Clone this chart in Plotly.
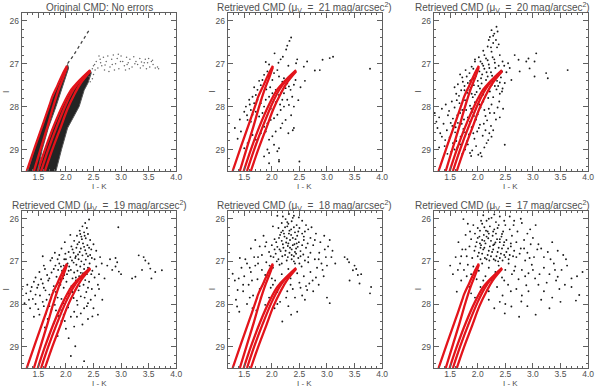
import plotly.graph_objects as go

# axis limits (I - K colour, I magnitude reversed)
x_range = [1.2, 4.0]
y_range = [29.5, 25.82]

# isochrone tracks drawn in red in every panel
iso_a_x = [1.29, 1.45, 1.60, 1.72, 1.75, 1.85, 1.95, 2.02]
iso_a_y = [29.5, 28.9, 28.35, 27.9, 27.78, 27.5, 27.22, 27.05]
iso_b_x = [1.42, 1.55, 1.67, 1.77, 1.87, 1.96, 2.02]
iso_b_y = [29.5, 28.95, 28.45, 28.0, 27.6, 27.3, 27.08]
iso_c_x = [1.49, 1.62, 1.78, 1.95, 2.10, 2.20, 2.30, 2.44]
iso_c_y = [29.5, 29.0, 28.45, 27.95, 27.6, 27.45, 27.32, 27.15]
iso_d_x = [1.55, 1.68, 1.84, 2.00, 2.13, 2.24, 2.44]
iso_d_y = [29.5, 29.0, 28.45, 27.95, 27.62, 27.42, 27.17]
iso_e_x = [1.62, 1.74, 1.90, 2.03, 2.16, 2.27, 2.44]
iso_e_y = [29.5, 29.05, 28.5, 28.05, 27.7, 27.45, 27.18]

# panel 1: error-free synthetic CMD (dense sequences as bands)
band_left_x = [1.31, 1.45, 1.60, 1.72, 1.85, 1.95, 2.03, 2.05, 1.95, 1.82, 1.68, 1.57, 1.49]
band_left_y = [29.5, 28.9, 28.35, 27.9, 27.5, 27.22, 27.02, 27.1, 27.5, 28.0, 28.5, 29.0, 29.5]
band_right_x = [1.50, 1.62, 1.78, 1.95, 2.10, 2.20, 2.30, 2.44, 2.46, 2.40, 2.33, 2.24, 2.13, 2.03, 1.92, 1.82]
band_right_y = [29.5, 29.0, 28.45, 27.95, 27.6, 27.45, 27.32, 27.15, 27.22, 27.45, 27.62, 28.0, 28.25, 28.5, 29.0, 29.5]
upper_rgb_x = [2.03, 2.08, 2.13, 2.18, 2.23, 2.28, 2.33, 2.38, 2.43]
upper_rgb_y = [27.0, 26.92, 26.82, 26.72, 26.62, 26.52, 26.42, 26.32, 26.2]
p1_agb = [
    (2.48, 27.12), (2.52, 27.02), (2.55, 26.95), (2.58, 27.10), (2.62, 26.90), (2.65, 27.05), (2.68, 26.85),
    (2.70, 27.15), (2.73, 26.95), (2.76, 26.82), (2.80, 27.08), (2.83, 26.90), (2.86, 26.80), (2.90, 27.00),
    (2.93, 26.88), (2.96, 27.12), (3.00, 26.82), (3.03, 26.95), (3.06, 27.05), (3.10, 26.85), (3.13, 26.98),
    (3.16, 26.90), (3.20, 27.08), (3.23, 26.84), (3.27, 26.95), (3.30, 27.02), (3.34, 26.88), (3.37, 26.96),
    (3.40, 27.05), (3.44, 26.90), (3.48, 26.98), (3.52, 27.08), (3.55, 26.95), (3.58, 27.02), (3.62, 27.10),
    (3.66, 27.08), (3.68, 27.12), (2.60, 26.82), (2.78, 27.18), (2.95, 26.78), (3.15, 27.12), (3.35, 27.10),
    (3.50, 26.88), (2.45, 27.20), (2.50, 27.25), (2.42, 27.30), (2.88, 27.15), (3.08, 27.15),
    (2.53, 27.15), (2.63, 26.98), (2.71, 27.03), (2.84, 27.02), (2.99, 26.95), (3.11, 27.02), (3.25, 27.00),
    (3.42, 26.98), (3.57, 26.92), (3.46, 27.12), (2.48, 27.35), (2.44, 27.42), (2.50, 27.05),
]

# retrieved CMDs, mu_V = 21
p2 = [
    (2.35, 26.39), (2.32, 26.47), (2.26, 26.67), (2.05, 26.76), (2.20, 26.84), (2.16, 26.90), (1.89, 26.96),
    (2.46, 26.90), (2.44, 26.99), (2.64, 26.95), (2.58, 27.07), (2.78, 27.16), (2.87, 27.15), (2.92, 26.91),
    (3.05, 26.87), (3.11, 26.84), (3.78, 27.12), (2.28, 26.58), (2.12, 26.98), (2.30, 27.05), (1.95, 27.02),
    (1.33, 28.50), (1.44, 28.58), (1.53, 28.00), (1.62, 28.08), (1.59, 27.84), (1.65, 27.77), (1.71, 27.73),
    (1.74, 27.61), (1.80, 27.50), (1.83, 27.38), (1.86, 27.26), (1.92, 27.18), (1.95, 27.30), (2.01, 27.38),
    (2.04, 27.22), (2.10, 27.15), (2.13, 27.30), (2.19, 27.42), (2.22, 27.34), (2.28, 27.46), (2.31, 27.53),
    (2.34, 27.61), (2.40, 27.49), (2.37, 27.77), (2.28, 27.84), (2.22, 28.00), (2.16, 28.08), (2.10, 28.19),
    (2.04, 28.27), (1.98, 28.31), (1.92, 28.39), (1.86, 28.47), (1.83, 28.15), (1.77, 28.23), (1.71, 28.12),
    (1.65, 28.19), (1.62, 28.35), (1.56, 28.31), (1.50, 28.12), (1.68, 27.92), (1.74, 27.84), (1.80, 27.92),
    (1.86, 28.00), (1.89, 27.84), (1.95, 27.77), (2.01, 27.69), (2.07, 27.61), (2.13, 27.73), (2.19, 27.84),
    (2.22, 27.69), (2.31, 27.96), (2.40, 28.00), (2.01, 28.69), (1.95, 28.77), (2.04, 28.89), (1.92, 29.00),
    (2.10, 29.04), (1.86, 29.16), (2.13, 29.24), (1.95, 29.08), (1.56, 28.85), (1.50, 28.97), (1.71, 28.77),
    (1.65, 28.66), (1.80, 28.62), (1.89, 28.58), (2.07, 28.58), (2.16, 28.50), (2.19, 28.39), (2.25, 28.31),
    (2.43, 27.38), (1.98, 28.05), (2.25, 27.57), (1.77, 27.40), (1.68, 27.55), (1.60, 27.95), (1.55, 28.20),
    (1.42, 28.30), (1.38, 28.75), (2.07, 27.90), (2.15, 27.95), (1.90, 27.60), (1.97, 27.55), (2.35, 28.20),
    (2.38, 28.55), (2.30, 28.62), (2.50, 29.28), (2.13, 28.97), (2.13, 29.28), (1.95, 29.32), (2.40, 28.50),
    (2.48, 27.85), (2.52, 27.55), (2.60, 27.40),
]

# mu_V = 20
p3 = [
    (1.78, 27.15), (1.85, 27.22), (1.92, 27.12), (1.97, 27.28), (2.03, 27.18), (2.08, 27.25), (2.12, 27.12),
    (2.18, 27.30), (2.24, 27.20), (2.30, 27.35), (2.36, 27.25), (2.42, 27.32), (1.88, 27.38), (2.00, 27.40),
    (2.15, 27.38), (2.27, 27.42), (2.40, 27.44), (1.72, 27.32), (1.82, 27.45), (2.21, 27.10),
    (1.58, 27.55), (1.64, 27.48), (1.70, 27.62), (1.76, 27.52), (1.81, 27.68), (1.87, 27.56), (1.93, 27.50),
    (1.98, 27.66), (2.04, 27.58), (2.10, 27.72), (2.16, 27.55), (2.22, 27.65), (2.28, 27.78), (2.34, 27.60),
    (2.40, 27.70), (2.45, 27.58), (1.66, 27.75), (1.91, 27.78), (2.07, 27.46), (2.19, 27.80), (1.73, 27.42),
    (1.95, 27.72), (2.31, 27.52), (1.61, 27.70), (2.02, 27.80),
    (1.42, 27.95), (1.48, 28.10), (1.53, 27.88), (1.58, 28.02), (1.63, 28.20), (1.67, 27.92), (1.72, 28.08),
    (1.77, 27.85), (1.82, 28.25), (1.86, 27.98), (1.90, 28.12), (1.95, 27.90), (2.00, 28.18), (2.05, 28.02),
    (2.10, 27.88), (2.14, 28.22), (2.20, 28.05), (2.25, 27.95), (2.30, 28.15), (2.36, 28.02), (1.22, 28.15),
    (1.55, 28.28), (1.75, 28.30), (1.97, 28.30), (2.17, 28.32), (2.40, 28.25), (1.35, 28.05), (1.68, 28.15),
    (1.88, 28.05),
    (1.27, 28.50), (1.32, 28.62), (1.38, 28.40), (1.44, 28.55), (1.49, 28.72), (1.54, 28.45), (1.59, 28.60),
    (1.64, 28.38), (1.69, 28.70), (1.74, 28.52), (1.79, 28.42), (1.84, 28.65), (1.89, 28.48), (1.94, 28.75),
    (1.99, 28.58), (2.04, 28.42), (2.09, 28.68), (2.14, 28.55), (2.19, 28.78), (2.24, 28.45), (2.21, 28.62),
    (1.41, 28.78), (1.61, 28.80), (1.81, 28.80),
    (1.40, 28.92), (1.52, 29.05), (1.63, 28.95), (1.72, 29.10), (1.82, 28.88), (1.90, 29.02), (1.97, 28.92),
    (2.05, 29.08), (2.01, 29.12), (2.07, 29.16), (2.49, 28.89), (1.88, 29.15), (2.12, 28.95), (1.55, 28.85),
    (2.34, 26.14), (2.25, 26.22), (2.30, 26.30), (2.22, 26.38), (2.33, 26.45), (2.28, 26.52), (2.18, 26.60),
    (2.35, 26.62), (2.10, 26.70), (2.25, 26.72), (2.40, 26.80), (2.02, 26.85), (2.15, 26.88), (2.30, 26.90),
    (1.95, 26.95), (2.08, 27.00), (2.20, 27.02), (2.38, 27.05), (1.89, 27.07), (2.45, 26.95), (2.27, 26.85),
    (2.12, 26.80), (2.38, 26.55), (2.20, 26.45),
    (2.55, 26.99), (2.67, 26.80), (2.74, 26.91), (2.88, 26.95), (2.92, 26.88), (3.06, 26.76), (3.03, 26.95),
    (2.76, 27.18), (2.94, 27.11), (3.24, 27.22), (3.27, 27.34), (3.03, 27.30), (3.63, 27.15), (2.49, 27.45),
    (2.61, 27.38), (2.52, 27.20), (2.58, 27.10),
    (1.80, 27.30), (1.86, 27.40), (1.93, 27.35), (2.06, 27.34), (2.16, 27.20), (2.26, 27.28), (2.35, 27.40),
    (1.76, 27.62), (1.85, 27.62), (1.89, 27.70), (2.01, 27.52), (2.13, 27.62), (2.25, 27.50), (2.37, 27.52),
    (1.62, 27.85), (1.70, 27.98), (1.79, 28.08), (1.93, 28.22), (2.03, 27.95), (2.12, 28.08), (2.22, 28.15),
    (2.33, 28.30), (1.46, 28.20), (1.51, 28.38), (1.60, 28.48), (1.71, 28.40), (1.77, 28.60), (1.86, 28.35),
    (1.92, 28.62), (2.02, 28.50), (2.11, 28.40), (2.28, 28.55), (1.35, 28.70), (1.46, 28.85), (1.58, 29.00),
    (1.68, 28.88), (1.77, 29.00), (1.86, 29.08), (1.30, 28.95), (1.45, 29.10), (2.16, 28.85), (2.25, 28.70),
    (1.98, 27.20), (2.10, 27.05), (2.32, 27.10), (2.44, 27.18), (1.68, 27.25), (1.95, 26.90), (2.05, 26.95),
    (2.18, 26.92), (2.31, 26.98), (2.24, 26.62), (2.28, 26.35), (2.36, 26.25), (2.48, 27.05), (2.44, 27.65),
    (2.39, 27.88), (2.46, 28.05), (1.25, 28.35), (1.30, 28.25),
]

# mu_V = 19
p4 = [
    (2.42, 26.02), (2.35, 26.10), (2.30, 26.18), (2.38, 26.22), (2.25, 26.28), (2.33, 26.32), (2.40, 26.36),
    (2.20, 26.40), (2.28, 26.42), (2.36, 26.46), (2.44, 26.50), (2.15, 26.52), (2.24, 26.55), (2.31, 26.58),
    (2.39, 26.62), (2.10, 26.65), (2.19, 26.68), (2.27, 26.70), (2.35, 26.74), (2.46, 26.72), (2.05, 26.78),
    (2.14, 26.80), (2.22, 26.84), (2.30, 26.86), (2.40, 26.88), (1.98, 26.55), (2.50, 26.60), (2.08, 26.38),
    (2.95, 26.20), (1.88, 26.85),
    (1.52, 27.25), (1.60, 27.10), (1.66, 27.32), (1.72, 26.98), (1.78, 27.18), (1.83, 27.36), (1.88, 27.05),
    (1.93, 27.22), (1.97, 26.95), (2.02, 27.30), (2.06, 27.12), (2.11, 26.98), (2.15, 27.26), (2.19, 27.08),
    (2.24, 27.35), (2.28, 27.00), (2.33, 27.18), (2.38, 27.30), (2.43, 27.05), (2.48, 27.22), (2.55, 27.12),
    (2.60, 27.30), (1.75, 26.92), (1.95, 27.40), (2.12, 27.40), (2.30, 27.38), (1.58, 26.88), (1.85, 26.95),
    (2.52, 26.95), (2.65, 27.05), (1.45, 27.38), (2.08, 26.90),
    (1.30, 27.55), (1.36, 27.70), (1.42, 27.48), (1.48, 27.62), (1.53, 27.80), (1.58, 27.52), (1.63, 27.68),
    (1.68, 27.45), (1.73, 27.85), (1.78, 27.58), (1.82, 27.72), (1.87, 27.50), (1.92, 27.88), (1.96, 27.62),
    (2.01, 27.48), (2.05, 27.75), (2.10, 27.58), (2.14, 27.86), (2.18, 27.45), (2.23, 27.68), (2.27, 27.82),
    (2.32, 27.55), (2.37, 27.72), (2.42, 27.48), (2.47, 27.65), (2.53, 27.80), (2.58, 27.55), (1.28, 27.75),
    (1.40, 27.88), (1.65, 27.90), (1.90, 27.42), (2.20, 27.92), (2.45, 27.90), (2.66, 27.90), (1.55, 27.42),
    (1.25, 27.98), (1.35, 28.10), (1.45, 28.00), (1.52, 28.25), (1.60, 28.05), (1.67, 28.35), (1.74, 28.12),
    (1.80, 28.02), (1.86, 28.28), (1.92, 28.15), (1.98, 28.40), (2.04, 28.08), (2.09, 28.30), (2.15, 28.18),
    (2.21, 28.02), (2.27, 28.22), (2.33, 28.10), (2.40, 28.35), (2.48, 28.29), (2.58, 28.25), (2.15, 28.53),
    (1.78, 28.45), (1.62, 28.55), (2.00, 28.58), (2.30, 28.48), (1.42, 28.30), (1.95, 27.98),
    (2.17, 28.99), (2.09, 29.22), (2.33, 29.34), (1.85, 28.75), (2.05, 28.80),
    (2.90, 26.92), (2.93, 27.02), (2.90, 27.12), (2.84, 27.20), (2.96, 27.24), (3.32, 26.86), (3.41, 26.90),
    (3.44, 26.98), (3.38, 27.20), (3.53, 27.17), (3.62, 27.25), (3.74, 27.21), (3.26, 27.36), (3.20, 27.40),
    (3.50, 27.05), (3.00, 27.30), (2.75, 27.10), (2.80, 26.95), (3.55, 27.40),
    (1.99, 26.82), (2.17, 26.92), (2.26, 27.12), (2.36, 26.96), (2.03, 27.05), (2.21, 27.22), (2.40, 27.15),
    (1.91, 27.12), (2.09, 27.20), (2.31, 27.28), (2.44, 26.85), (1.81, 27.10),
    (2.26, 26.36), (2.34, 26.40), (2.29, 26.48), (2.21, 26.60), (2.33, 26.66), (2.42, 26.68), (2.25, 26.78),
    (2.12, 26.72), (2.37, 26.82), (2.18, 26.88), (2.47, 26.92), (2.00, 26.95), (2.23, 26.95), (2.33, 27.07),
    (2.14, 27.03), (1.96, 27.10), (1.86, 27.20), (2.05, 27.22), (2.27, 27.27), (2.46, 27.30), (1.74, 27.26),
    (1.62, 27.18), (1.70, 27.40), (1.97, 27.32), (2.18, 27.38), (2.35, 27.44), (2.52, 27.38), (1.50, 27.55),
    (1.60, 27.62), (1.77, 27.68), (1.90, 27.55), (2.07, 27.65), (2.25, 27.58), (2.40, 27.62), (1.45, 27.78),
    (1.58, 27.95), (1.70, 27.78), (1.85, 27.85), (2.02, 27.88), (2.12, 27.72), (2.34, 27.85), (1.38, 27.60),
    (1.50, 28.12), (1.64, 28.22), (1.82, 28.15), (1.96, 28.25), (2.20, 28.30), (2.38, 28.05), (1.20, 27.65),
    (1.33, 27.90), (2.60, 27.65), (2.70, 27.40), (2.62, 26.90), (2.55, 26.75), (1.92, 26.70), (1.80, 26.80),
    (2.40, 27.98), (2.50, 28.10), (1.70, 28.05), (1.92, 28.40),
]

# mu_V = 18
p5 = [
    (2.31, 25.89), (2.40, 25.93), (2.49, 25.97), (2.25, 26.01), (2.10, 25.93), (2.55, 26.05), (2.18, 26.10),
    (2.36, 26.06), (2.62, 26.15), (2.02, 26.18),
    (2.12, 26.22), (2.20, 26.28), (2.28, 26.18), (2.35, 26.25), (2.42, 26.32), (2.50, 26.22), (2.15, 26.38),
    (2.23, 26.42), (2.31, 26.35), (2.38, 26.45), (2.46, 26.40), (2.55, 26.35), (2.05, 26.48), (2.18, 26.52),
    (2.26, 26.56), (2.33, 26.50), (2.41, 26.60), (2.49, 26.55), (2.58, 26.50), (2.00, 26.62), (2.10, 26.66),
    (2.21, 26.68), (2.29, 26.64), (2.36, 26.72), (2.44, 26.70), (2.52, 26.76), (2.62, 26.68), (1.95, 26.78),
    (2.07, 26.82), (2.16, 26.76), (2.24, 26.85), (2.32, 26.80), (2.40, 26.88), (2.48, 26.92), (2.57, 26.84),
    (2.66, 26.90), (2.12, 26.95), (2.27, 26.98), (2.36, 26.95), (2.03, 26.90), (1.90, 26.55), (1.85, 26.40),
    (2.70, 26.45), (2.60, 26.30), (2.75, 26.62), (1.78, 26.65), (1.82, 26.85), (2.45, 26.15), (2.28, 26.08),
    (1.70, 26.50), (1.62, 26.70),
    (1.29, 27.29), (1.33, 27.45), (1.38, 27.67), (1.37, 28.06), (1.41, 28.18), (1.45, 27.15), (1.50, 27.35),
    (1.55, 27.05), (1.58, 27.55), (1.62, 27.25), (1.66, 27.80), (1.70, 27.10), (1.74, 27.42), (1.78, 27.65),
    (1.82, 27.20), (1.86, 27.48), (1.90, 27.02), (1.94, 27.35), (1.98, 27.62), (2.02, 27.15), (2.06, 27.45),
    (2.10, 27.72), (2.14, 27.08), (2.18, 27.30), (2.22, 27.55), (2.26, 27.85), (2.30, 27.18), (2.34, 27.40),
    (2.38, 27.65), (2.42, 27.05), (2.46, 27.28), (2.50, 27.50), (2.54, 27.12), (2.58, 27.35), (2.62, 27.58),
    (2.66, 27.02), (2.70, 27.25), (2.74, 27.45), (2.78, 26.95), (2.82, 27.15), (2.86, 26.80), (2.90, 27.05),
    (2.94, 27.35), (2.98, 26.90), (3.02, 26.65), (2.64, 27.67), (2.46, 28.18), (2.19, 28.41), (2.05, 28.10),
    (1.88, 28.02), (1.72, 28.15), (1.55, 28.00), (2.30, 28.05), (2.15, 27.95), (1.95, 27.85), (1.60, 27.85),
    (1.48, 27.70), (2.55, 27.80), (2.75, 27.70), (3.05, 27.98), (3.00, 27.85), (2.85, 27.55), (1.52, 26.95),
    (1.42, 26.92), (1.68, 26.90), (2.88, 26.55), (2.95, 26.40), (3.05, 26.50), (3.10, 26.75), (3.15, 27.05),
    (2.72, 26.20), (2.80, 26.35),
    (3.32, 26.90), (3.37, 26.95), (3.40, 27.02), (3.47, 27.21), (3.53, 27.18), (3.56, 27.32), (3.59, 27.52),
    (3.41, 27.45), (3.80, 27.60), (3.78, 27.75), (3.50, 27.10), (3.62, 27.30),
    (2.24, 26.20), (2.32, 26.28), (2.40, 26.20), (2.17, 26.32), (2.27, 26.46), (2.35, 26.38), (2.43, 26.48),
    (2.20, 26.60), (2.30, 26.58), (2.38, 26.62), (2.47, 26.66), (2.14, 26.72), (2.25, 26.75), (2.33, 26.68),
    (2.42, 26.78), (2.55, 26.62), (2.19, 26.88), (2.29, 26.90), (2.44, 26.82), (2.52, 26.88), (2.08, 26.55),
    (2.13, 26.45), (2.22, 26.35), (2.48, 26.30), (2.58, 26.42), (2.65, 26.58), (2.05, 26.72), (1.98, 26.88),
    (2.60, 26.98), (2.70, 26.80), (2.30, 26.12), (2.38, 25.98), (2.20, 25.95), (2.45, 26.58), (2.36, 26.85),
    (2.09, 27.00), (2.18, 27.05), (2.40, 27.00), (2.50, 27.05), (1.96, 27.10), (1.75, 27.05), (1.60, 27.15),
    (1.40, 27.40), (1.35, 27.90), (1.48, 27.55), (1.64, 27.45), (1.88, 27.32), (2.00, 27.40), (2.16, 27.50),
    (2.34, 27.55), (2.52, 27.62), (2.68, 27.52), (2.80, 27.38), (2.92, 27.20), (3.00, 27.10), (2.96, 26.72),
    (2.85, 26.95), (3.08, 26.90), (2.78, 26.50), (2.66, 26.25), (1.75, 26.90), (1.88, 26.65), (2.02, 27.55),
    (2.28, 27.70), (2.42, 27.85), (2.60, 27.90), (1.80, 27.85), (2.10, 28.00), (1.65, 28.10), (2.35, 28.25),
]

# mu_V = 17
p6 = [
    (1.92, 26.15), (2.00, 26.22), (2.08, 26.12), (2.15, 26.28), (2.22, 26.18), (2.30, 26.25), (2.38, 26.15),
    (2.46, 26.30), (1.95, 26.35), (2.03, 26.42), (2.11, 26.38), (2.19, 26.46), (2.27, 26.40), (2.35, 26.48),
    (2.43, 26.42), (2.52, 26.50), (1.98, 26.55), (2.06, 26.62), (2.14, 26.58), (2.22, 26.65), (2.30, 26.60),
    (2.38, 26.68), (2.47, 26.62), (2.55, 26.70), (1.94, 26.75), (2.02, 26.80), (2.10, 26.72), (2.18, 26.85),
    (2.26, 26.78), (2.34, 26.88), (2.42, 26.82), (2.50, 26.90), (2.58, 26.85), (2.05, 26.95), (2.13, 26.92),
    (2.21, 26.98), (2.29, 26.95), (2.37, 27.00), (2.45, 26.98), (1.88, 26.48), (1.85, 26.65), (2.62, 26.40),
    (2.60, 26.58), (2.66, 26.75), (2.16, 26.05), (2.33, 26.08), (2.25, 25.98), (2.40, 25.95), (2.10, 25.92),
    (2.48, 26.05), (2.12, 26.52), (2.28, 26.72), (2.40, 26.55), (2.18, 26.30), (2.05, 26.68), (2.33, 26.35),
    (1.74, 26.01), (1.60, 26.90), (1.72, 26.72), (1.65, 26.55), (1.78, 26.38), (1.80, 26.88), (1.68, 27.05),
    (1.75, 27.20), (1.82, 27.08), (1.88, 27.30), (1.92, 27.12), (1.98, 27.42), (2.02, 27.22), (2.08, 27.05),
    (2.14, 27.35), (2.20, 27.15), (2.26, 27.45), (2.32, 27.25), (2.38, 27.10), (2.44, 27.38), (2.50, 27.20),
    (2.56, 27.05), (2.62, 27.30), (2.68, 27.12), (2.74, 27.42), (2.80, 27.20), (2.86, 26.98), (2.92, 27.28),
    (2.98, 27.08), (3.04, 27.40), (2.70, 26.90), (2.78, 26.70), (2.84, 26.50), (2.90, 26.80), (2.96, 26.60),
    (3.02, 26.90), (3.08, 26.72), (2.72, 26.30), (2.65, 26.15), (2.80, 26.10), (2.58, 25.95), (2.90, 26.35),
    (1.62, 27.71), (1.70, 27.45), (1.85, 27.60), (2.35, 27.60), (2.55, 27.55), (2.88, 27.56), (2.70, 27.65),
    (2.61, 28.06), (2.49, 28.22), (2.79, 27.94), (2.92, 27.70), (3.15, 27.90), (2.45, 27.80), (2.20, 27.70),
    (1.95, 27.85), (2.30, 28.10), (3.10, 27.55), (2.15, 27.55), (1.55, 27.30), (1.50, 27.10),
    (3.15, 26.70), (3.27, 26.78), (3.32, 26.95), (3.38, 27.05), (3.45, 27.36), (3.48, 27.65), (3.40, 27.20),
    (3.55, 26.85), (3.62, 27.10), (3.35, 26.55), (3.84, 27.79), (3.78, 27.92), (3.70, 27.40), (3.20, 27.15),
    (3.25, 27.50), (3.58, 27.55), (3.50, 27.95), (3.90, 27.25), (3.12, 27.30), (3.30, 28.10), (3.05, 28.25),
    (2.75, 28.30),
    (2.04, 26.28), (2.12, 26.20), (2.20, 26.35), (2.28, 26.30), (2.36, 26.22), (2.44, 26.36), (2.00, 26.45),
    (2.08, 26.50), (2.16, 26.42), (2.24, 26.52), (2.32, 26.56), (2.40, 26.48), (2.48, 26.55), (1.96, 26.65),
    (2.04, 26.58), (2.12, 26.68), (2.20, 26.75), (2.28, 26.62), (2.36, 26.78), (2.44, 26.70), (2.52, 26.78),
    (2.60, 26.65), (2.00, 26.88), (2.08, 26.82), (2.16, 26.95), (2.24, 26.88), (2.32, 26.98), (2.40, 26.92),
    (2.48, 26.85), (2.56, 26.95), (2.64, 26.88), (1.90, 26.92), (1.86, 26.30), (1.82, 26.12), (2.50, 26.15),
    (2.58, 26.25), (2.70, 26.55), (2.76, 26.82), (2.30, 25.90), (2.20, 26.00), (2.06, 26.05), (1.78, 26.72),
    (1.70, 26.88), (1.64, 27.20), (1.80, 27.35), (1.96, 27.20), (2.10, 27.45), (2.30, 27.38), (2.48, 27.45),
    (2.66, 27.22), (2.86, 27.35), (3.00, 27.20), (2.94, 26.92), (2.84, 26.70), (3.00, 26.45), (3.10, 26.60),
    (3.20, 26.90), (3.30, 27.30), (3.42, 27.45), (3.52, 27.20), (3.60, 26.95), (3.70, 27.60), (3.80, 27.35),
    (3.45, 26.75), (2.60, 27.70), (2.80, 27.80), (2.40, 27.95), (2.20, 27.90), (2.05, 27.60), (1.88, 27.75),
    (2.50, 28.00), (2.90, 28.05), (3.20, 27.70), (3.35, 27.85), (2.95, 26.25), (2.78, 26.00), (2.66, 26.05),
    (3.05, 26.15),
]

titles = [
    "Original CMD: No errors",
    "Retrieved CMD (\u03bc<sub>V</sub>  =  21 mag/arcsec<sup>2</sup>)",
    "Retrieved CMD (\u03bc<sub>V</sub>  =  20 mag/arcsec<sup>2</sup>)",
    "Retrieved CMD (\u03bc<sub>V</sub>  =  19 mag/arcsec<sup>2</sup>)",
    "Retrieved CMD (\u03bc<sub>V</sub>  =  18 mag/arcsec<sup>2</sup>)",
    "Retrieved CMD (\u03bc<sub>V</sub>  =  17 mag/arcsec<sup>2</sup>)",
]
retrieved = [None, p2, p3, p4, p5, p6]

W, H = 600, 388
RED = "#e3141b"
TXT = "#505050"
FONT = "Liberation Sans"

fig = go.Figure()
layout = dict(width=W, height=H, margin=dict(l=0, r=0, t=0, b=0),
              paper_bgcolor="white", plot_bgcolor="white", showlegend=False)
annotations = []

for i in range(6):
    row, col = divmod(i, 3)
    left = 22 + 208 * col
    top = 13 if row == 0 else 211
    bottom = 171 if row == 0 else 368
    n = "" if i == 0 else str(i + 1)
    xa, ya = "x" + n, "y" + n

    ax = dict(showline=True, linecolor="#606060", linewidth=1, mirror="ticks",
              ticks="inside", ticklen=5, tickcolor="#606060", showgrid=False, zeroline=False,
              tickfont=dict(family=FONT, size=8.5, color=TXT))
    layout["xaxis" + n] = dict(ax, domain=[left / W, (left + 156) / W], range=x_range,
                               anchor=ya, tickmode="array", ticklabelstandoff=-2,
                               tickvals=[1.5, 2.0, 2.5, 3.0, 3.5, 4.0], tickformat=".1f",
                               minor=dict(ticks="inside", ticklen=2, dtick=0.1, tick0=1.2,
                                          tickcolor="#606060"))
    layout["yaxis" + n] = dict(ax, domain=[1 - bottom / H, 1 - top / H], range=y_range,
                               anchor=xa, tickmode="array", tickvals=[26, 27, 28, 29],
                               minor=dict(ticks="inside", ticklen=2, dtick=0.2, tick0=26,
                                          tickcolor="#606060"))

    if i == 0:
        for bx, by in [(band_left_x, band_left_y), (band_right_x, band_right_y)]:
            fig.add_trace(go.Scatter(x=bx, y=by, mode="lines", fill="toself",
                                     fillcolor="#242424", line=dict(color="#555", width=1),
                                     xaxis=xa, yaxis=ya, hoverinfo="skip"))
        fig.add_trace(go.Scatter(x=upper_rgb_x, y=upper_rgb_y, mode="lines",
                                 line=dict(color="#444", width=1.3, dash="dot"),
                                 xaxis=xa, yaxis=ya))
        fig.add_trace(go.Scatter(x=[p[0] for p in p1_agb], y=[p[1] for p in p1_agb],
                                 mode="markers", marker=dict(size=1.5, color="#666"),
                                 xaxis=xa, yaxis=ya))
    else:
        pts = retrieved[i]
        fig.add_trace(go.Scatter(x=[p[0] for p in pts], y=[p[1] for p in pts],
                                 mode="markers", marker=dict(size=1.9, color="#1a1a1a"),
                                 xaxis=xa, yaxis=ya))

    for lx, ly in [(iso_a_x, iso_a_y), (iso_b_x, iso_b_y), (iso_c_x, iso_c_y),
                   (iso_d_x, iso_d_y), (iso_e_x, iso_e_y)]:
        fig.add_trace(go.Scatter(x=lx, y=ly, mode="lines",
                                 line=dict(color=RED, width=2.3, shape="spline"),
                                 xaxis=xa, yaxis=ya))

    # panel title and axis labels
    cx = (left + 78) / W
    tx = cx if col < 2 else 508 / W
    annotations.append(dict(text=titles[i], x=tx, y=1 - (top - 6) / H, xref="paper", yref="paper",
                            showarrow=False, xanchor="center", yanchor="middle",
                            font=dict(family=FONT, size=10, color=TXT)))
    annotations.append(dict(text="I - K", x=cx, y=1 - (bottom + 15.5) / H, xref="paper", yref="paper",
                            showarrow=False, xanchor="center", yanchor="middle",
                            font=dict(family=FONT, size=8, color=TXT)))
    annotations.append(dict(text="I", x=(left - 16) / W, y=1 - (top + bottom) / 2 / H,
                            xref="paper", yref="paper", textangle=-90, showarrow=False,
                            xanchor="center", yanchor="middle",
                            font=dict(family=FONT, size=8.5, color=TXT)))

layout["annotations"] = annotations
fig.update_layout(**layout)
# drop the default page margin so the 600x388 figure sits at the window origin
fig.write_html("out.html", config={"displayModeBar": False},
               post_script="document.body.style.margin='0';")
